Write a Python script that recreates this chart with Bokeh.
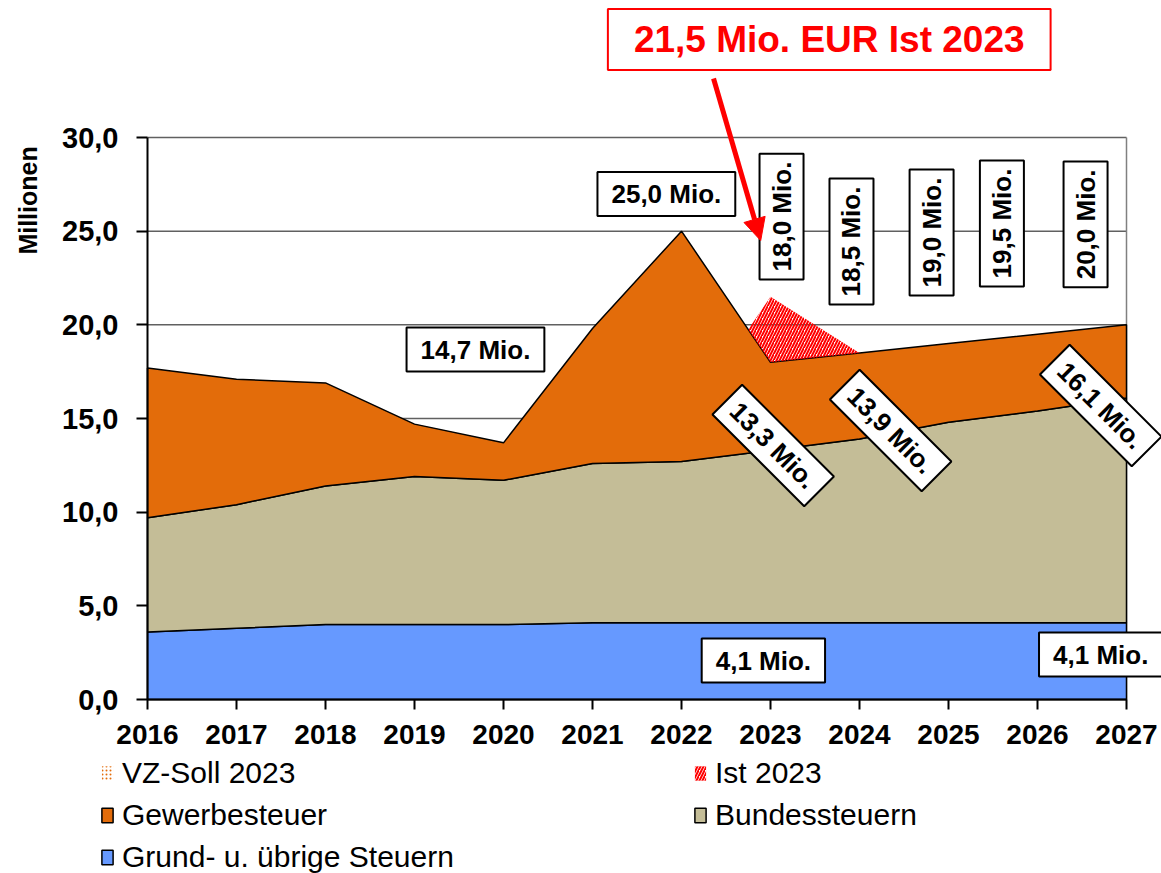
import numpy as np
from bokeh.plotting import figure
from bokeh.models import (Range1d, FixedTicker, Label, Arrow, NormalHead, Legend, LegendItem,
                          LinearAxis)
from bokeh.embed import file_html
from bokeh.resources import INLINE

# ---- data ----
years = [2016, 2017, 2018, 2019, 2020, 2021, 2022, 2023, 2024, 2025, 2026, 2027]
grund = [3.6, 3.8, 4.0, 4.0, 4.0, 4.1, 4.1, 4.1, 4.1, 4.1, 4.1, 4.1]
bund = [6.1, 6.6, 7.4, 7.9, 7.7, 8.5, 8.6, 9.2, 9.8, 10.7, 11.3, 12.0]
gewerbe = [8.0, 6.7, 5.5, 2.8, 2.0, 7.2, 12.3, 4.7, 4.6, 4.2, 4.1, 3.9]
ist_2023 = 21.5
vz_soll_2023 = 18.0
ist_start_year = 2022.75
y_ticks = [0, 5, 10, 15, 20, 25, 30]
y_tick_labels = ["0,0", "5,0", "10,0", "15,0", "20,0", "25,0", "30,0"]

FONT = "Liberation Sans"
ORANGE = "#E36C0A"
BEIGE = "#C4BD97"
BLUE = "#6699FF"

x = np.array(years, dtype=float)
l1 = np.array(grund)
l2 = l1 + np.array(bund)
l3 = l2 + np.array(gewerbe)


def fmt(v):
    return f"{v:.1f}".replace(".", ",") + " Mio."


W, H = 1161, 873
# plot frame spans the whole canvas; axes are drawn at fixed data locations
PX_PER_YEAR = 89.0
PX_PER_UNIT = 562.0 / 30.0
X0_PX, Y0_PX = 147.0, 699.0
x_lo = years[0] - X0_PX / PX_PER_YEAR
x_hi = years[0] + (W - X0_PX) / PX_PER_YEAR
y_lo = -(H - Y0_PX) / PX_PER_UNIT
y_hi = Y0_PX / PX_PER_UNIT

p = figure(width=W, height=H, output_backend="svg", toolbar_location=None,
           x_range=Range1d(x_lo, x_hi), y_range=Range1d(y_lo, y_hi),
           x_axis_location=None, y_axis_location=None,
           min_border=0)
p.background_fill_color = "white"
p.border_fill_color = "white"
p.outline_line_color = None
p.grid.visible = False

# grid lines (drawn first, below the areas) and right edge of plot area
p.segment(x0=[years[0]] * len(y_ticks), x1=[years[-1]] * len(y_ticks), y0=y_ticks, y1=y_ticks,
          line_color="#606060", line_width=1.5)
p.segment(x0=[years[-1]], x1=[years[-1]], y0=[y_ticks[0]], y1=[y_ticks[-1]],
          line_color="#808080", line_width=1.5)

# axes
xax = LinearAxis(fixed_location=0, bounds=(years[0], years[-1]),
                 ticker=FixedTicker(ticks=years),
                 major_label_overrides={yr: str(yr) for yr in years})
yax = LinearAxis(fixed_location=years[0], bounds=(y_ticks[0], y_ticks[-1]),
                 ticker=FixedTicker(ticks=y_ticks),
                 major_label_overrides={t: s for t, s in zip(y_ticks, y_tick_labels)})
for ax in (xax, yax):
    ax.axis_line_color = "black"
    ax.axis_line_width = 2
    ax.major_tick_line_color = "black"
    ax.major_tick_line_width = 2
    ax.major_tick_in = 0
    ax.minor_tick_line_color = None
    ax.major_label_text_font = FONT
    ax.major_label_text_font_style = "bold"
    ax.major_label_text_color = "black"
xax.major_tick_out = 10
xax.major_label_text_font_size = "28px"
xax.major_label_standoff = 15
yax.major_tick_out = 11
yax.major_label_text_font_size = "29px"
yax.major_label_standoff = 18

# stacked areas as patches
def band(bottom, top):
    xs = list(x) + list(x[::-1])
    ys = list(top) + list(bottom[::-1])
    return xs, ys

zero = np.zeros_like(l1)
xs, ys = band(zero, l1)
r_grund = p.patch(xs, ys, fill_color=BLUE, line_color="black", line_width=1.5)
xs, ys = band(l1, l2)
r_bund = p.patch(xs, ys, fill_color=BEIGE, line_color="black", line_width=1.5)
xs, ys = band(l2, l3)
r_gew = p.patch(xs, ys, fill_color=ORANGE, line_color="black", line_width=1.5)

# Ist 2023 hatched region
soll_start = float(np.interp(ist_start_year, x, l3))
i23 = years.index(2023)
i24 = years.index(2024)
ist_x = [ist_start_year, 2023, 2024, 2023]
ist_y = [soll_start, ist_2023, l3[i24], l3[i23]]
r_ist = p.patch(ist_x, ist_y, fill_alpha=0, line_color=None,
                hatch_pattern="/", hatch_color="#FF0000", hatch_scale=6, hatch_weight=2)
# VZ-Soll 2023 coincides with the plotted 2023 total (zero-height marker)
r_vz = p.patch([2023, 2023, 2023], [vz_soll_2023, vz_soll_2023, vz_soll_2023],
               fill_color="white", fill_alpha=0, line_color=None,
               hatch_pattern=".", hatch_color=ORANGE, hatch_scale=4, hatch_weight=2.2)

p.add_layout(xax, "below")
p.add_layout(yax, "left")

# data labels
def box_label(xv, yv, text, angle=0.0, pad=(7, 14)):
    lab = Label(x=xv, y=yv, text=text, angle=angle,
                text_font=FONT, text_font_style="bold", text_font_size="26px",
                text_color="black", text_align="center", text_baseline="middle",
                background_fill_color="white", border_line_color="black",
                border_line_width=2,
                padding=dict(left=pad[1], right=pad[1], top=pad[0], bottom=pad[0]))
    p.add_layout(lab)

i19 = years.index(2019)
i22 = years.index(2022)
box_label(2021.83, 26.98, fmt(l3[i22]))
box_label(2019.685, 18.68, fmt(l3[i19]))
vert_pos = [(2023.124, 25.78), (2023.91, 24.45), (2024.81, 24.93), (2025.6, 25.41), (2026.54, 25.36)]
for (xv, yv), yr in zip(vert_pos, [2023, 2024, 2025, 2026, 2027]):
    box_label(xv, yv, fmt(l3[years.index(yr)]), angle=np.pi / 2, pad=(7, 8))
diag_pos = [(2023.03, 13.56, 2023), (2024.35, 14.36, 2024), (2026.71, 15.69, 2027)]
for xv, yv, yr in diag_pos:
    box_label(xv, yv, fmt(l2[years.index(yr)]), angle=-np.pi / 4, pad=(6, 10))
box_label(2022.92, 2.08, fmt(l1[i23]))
box_label(2026.71, 2.40, fmt(l1[years.index(2027)]))

# headline box and arrow
p.add_layout(Arrow(end=NormalHead(size=22, fill_color="#FF0000", line_color="#FF0000"),
                   x_start=2022.36, y_start=33.15, x_end=2022.89, y_end=24.5,
                   line_color="#FF0000", line_width=5))
p.add_layout(Label(x=2023.66, y=35.23, text=f"{ist_2023:.1f}".replace(".", ",") + " Mio. EUR Ist 2023",
                   text_font=FONT, text_font_style="bold", text_font_size="37px",
                   text_color="#FF0000", text_align="center", text_baseline="middle",
                   background_fill_color="white", border_line_color="#FF0000",
                   border_line_width=2,
                   padding=dict(left=26, right=26, top=10, bottom=10)))

# y axis title
p.add_layout(Label(x=2014.66, y=26.64, text="Millionen", angle=np.pi / 2,
                   text_font=FONT, text_font_style="bold", text_font_size="25px",
                   text_color="black", text_align="center", text_baseline="middle"))

# legends
def make_legend(items, loc):
    lg = Legend(items=items, location=loc, orientation="vertical",
                label_text_font=FONT, label_text_font_size="30px", label_text_color="black",
                glyph_width=14, glyph_height=18, label_standoff=8, spacing=8,
                padding=0, margin=0, border_line_color=None, background_fill_alpha=0)
    p.add_layout(lg)

make_legend([LegendItem(label="VZ-Soll 2023", renderers=[r_vz]),
             LegendItem(label="Gewerbesteuer", renderers=[r_gew]),
             LegendItem(label="Grund- u. übrige Steuern", renderers=[r_grund])], (100, -1))
make_legend([LegendItem(label="Ist 2023", renderers=[r_ist]),
             LegendItem(label="Bundessteuern", renderers=[r_bund])], (693, 41))

open("out.html", "w").write(file_html(p, INLINE))
